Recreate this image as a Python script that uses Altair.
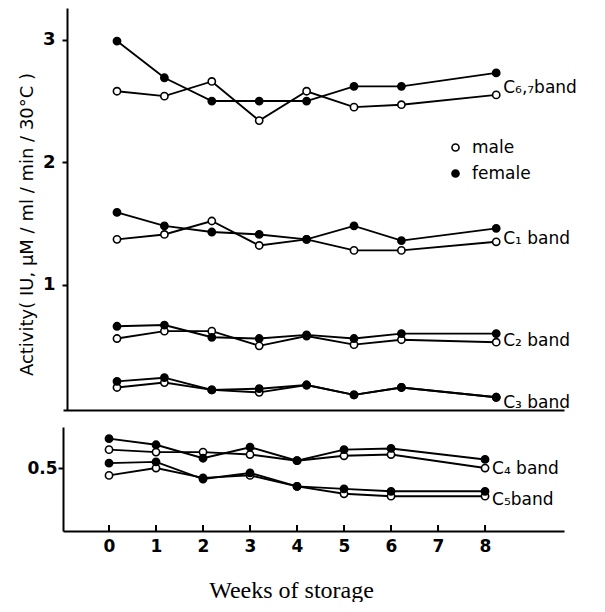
import altair as alt
import pandas as pd

# ---------------- data ----------------
weeks = [0, 1, 2, 3, 4, 5, 6, 8]
tick_weeks = [0, 1, 2, 3, 4, 5, 6, 7, 8]

top_bands = ["C₆,₇band", "C₁ band", "C₂ band", "C₃ band"]
bottom_bands = ["C₄ band", "C₅band"]
top_label_at = [2.61, 1.37, 0.54, 0.03]
bottom_label_at = [0.49, 0.24]

c67_female = [2.99, 2.69, 2.50, 2.50, 2.50, 2.62, 2.62, 2.73]
c67_male = [2.58, 2.54, 2.66, 2.34, 2.58, 2.45, 2.47, 2.55]
c1_female = [1.59, 1.48, 1.43, 1.41, 1.37, 1.48, 1.36, 1.46]
c1_male = [1.37, 1.41, 1.52, 1.32, 1.37, 1.28, 1.28, 1.35]
c2_female = [0.66, 0.67, 0.57, 0.56, 0.59, 0.56, 0.60, 0.60]
c2_male = [0.56, 0.62, 0.62, 0.50, 0.58, 0.51, 0.55, 0.53]
c3_female = [0.21, 0.24, 0.14, 0.15, 0.18, 0.10, 0.16, 0.08]
c3_male = [0.16, 0.20, 0.14, 0.12, 0.18, 0.10, 0.16, 0.08]
c4_female = [0.74, 0.69, 0.58, 0.67, 0.56, 0.65, 0.66, 0.57]
c4_male = [0.65, 0.63, 0.63, 0.61, 0.56, 0.60, 0.61, 0.50]
c5_female = [0.54, 0.55, 0.41, 0.46, 0.35, 0.33, 0.31, 0.31]
c5_male = [0.44, 0.50, 0.42, 0.44, 0.35, 0.29, 0.27, 0.27]

top_male = [c67_male, c1_male, c2_male, c3_male]
top_female = [c67_female, c1_female, c2_female, c3_female]
bottom_male = [c4_male, c5_male]
bottom_female = [c4_female, c5_female]

sexes = ["male", "female"]
y_title = "Activity( IU, μM / ml / min / 30°C )"
x_title = "Weeks of storage"


def build(bands, males, females):
    rows = []
    for band, m, f in zip(bands, males, females):
        for sex, vals in (("male", m), ("female", f)):
            for w, v in zip(weeks, vals):
                rows.append({"band": band, "sex": sex, "series": band + sex, "week": w, "value": v})
    return pd.DataFrame(rows)


def build_labels(bands, at):
    return pd.DataFrame({"band": bands, "week": [weeks[-1]] * len(bands), "value": at})


top_df = build(top_bands, top_male, top_female)
bottom_df = build(bottom_bands, bottom_male, bottom_female)
top_lab = build_labels(top_bands, top_label_at)
bottom_lab = build_labels(bottom_bands, bottom_label_at)
ticks_df = pd.DataFrame({"week": tick_weeks})

W = 501
H_TOP = 402
H_BOT = 104

fill_scale = alt.Scale(domain=sexes, range=["white", "black"])


def panel(df, lab, xdom, ydom, height, yvals, bottom, legend):
    if bottom:
        xaxis = alt.Axis(values=tick_weeks, ticks=False, labelFontSize=17, labelFontWeight="bold",
                         labelPadding=7, title=x_title, titleFont="Liberation Serif",
                         titleFontSize=24, titleFontWeight="normal", titlePadding=24, titleX=228)
        yaxis = alt.Axis(values=yvals, format=".1f", title=None, labelFontSize=17,
                         labelFontWeight="bold", tickSize=5, labelPadding=1)
    else:
        xaxis = alt.Axis(labels=False, ticks=False, title=None)
        yaxis = alt.Axis(values=yvals, format="d", title=y_title, titleFontSize=18,
                         titleFontWeight="normal", titlePadding=6, titleY=216, offset=-4,
                         labelFontSize=18, labelFontWeight="bold", tickSize=5, labelPadding=7)
    x = alt.X("week:Q", scale=alt.Scale(domain=xdom, nice=False, zero=False), axis=xaxis)
    y = alt.Y("value:Q", scale=alt.Scale(domain=ydom, nice=False, zero=False), axis=yaxis)

    base = alt.Chart(df)
    lines = base.mark_line(color="black", strokeWidth=1.9).encode(x=x, y=y, detail="series:N")
    if legend:
        leg = alt.Legend(title=None, orient="none", legendX=384, legendY=131, labelFontSize=17,
                         labelFont="DejaVu Sans", symbolType="circle", symbolSize=50,
                         symbolStrokeColor="black", symbolStrokeWidth=1.6, rowPadding=8,
                         labelOffset=8, padding=0)
    else:
        leg = None
    fill = alt.Fill("sex:N", scale=fill_scale, legend=leg)
    points = base.mark_circle(size=52, stroke="black", strokeWidth=1.6, opacity=1).encode(
        x=x, y=y, fill=fill)
    labels = alt.Chart(lab).mark_text(align="left", baseline="middle", dx=7, fontSize=17,
                                      font="DejaVu Sans", color="black").encode(
        x="week:Q", y="value:Q", text="band:N")
    layers = [lines, points, labels]
    if bottom:
        tk = alt.Chart(ticks_df).mark_rule(color="black", strokeWidth=2).encode(
            x="week:Q", y=alt.value(height), y2=alt.value(height - 6))
        layers.append(tk)
    return alt.layer(*layers).properties(width=W, height=height)


top = panel(top_df, top_lab, [-1.139, 9.43], [-0.024, 3.26], H_TOP, [1, 2, 3], False, True)
bottom = panel(bottom_df, bottom_lab, [-0.979, 9.68], [-0.014, 0.835], H_BOT, [0.5], True, False)

chart = alt.vconcat(top, bottom, spacing=15).resolve_scale(
    x="independent", y="independent", fill="independent"
).configure_view(stroke=None).configure_axis(
    grid=False, domainColor="black", domainWidth=2, tickColor="black", tickWidth=2,
    labelColor="black", titleColor="black", labelFont="DejaVu Sans", titleFont="DejaVu Sans"
).properties(padding={"left": 10, "top": 0, "right": 0, "bottom": 0}, background="white")

chart.save("out.html", embed_options={"renderer": "svg", "actions": False})
